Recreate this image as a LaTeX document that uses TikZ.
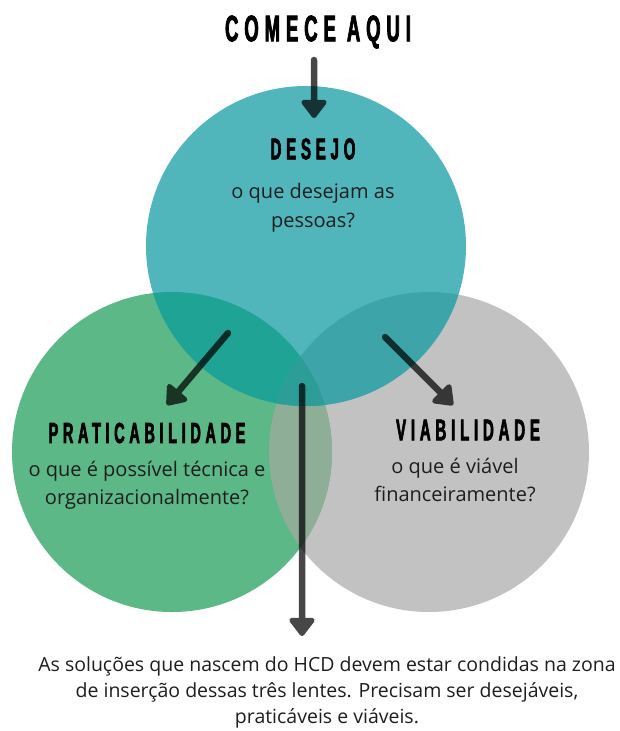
\documentclass[tikz,border=0pt]{standalone}
\usepackage{fontspec}
\setmainfont{Open Sans}
\newfontfamily\headfont[FakeStretch=0.5,LetterSpace=16,FakeBold=2]{Liberation Sans Bold}
\usetikzlibrary{arrows.meta}
\definecolor{cteal}{HTML}{50B6BB}
\definecolor{cgreen}{HTML}{5DB887}
\definecolor{cgray}{HTML}{C2C2C2}
\definecolor{ctg}{HTML}{1FA394}
\definecolor{ctv}{HTML}{3DA4A9}
\definecolor{cgv}{HTML}{8EAE98}
\definecolor{ctri}{HTML}{2C9E97}
\definecolor{ctext}{HTML}{1E1E1E}
\begin{document}
\begin{tikzpicture}[x=1pt,y=-1pt,
  lens/.style={circle,minimum size=320pt,inner sep=0pt},
  head/.style={font=\headfont,text=black,inner sep=0pt},
  body/.style={font=\fontsize{20}{28.5}\selectfont,text=ctext,align=center,inner sep=0pt},
  arr/.style={line width=6.5pt,line cap=round,-{Triangle[width=29pt,length=20pt,round]}}]
\useasboundingbox (0,0) rectangle (619,731);
\fill[white] (0,0) rectangle (619,731);
% lenses
\node[lens,fill=cgray] (via) at (429,452) {};
\node[lens,fill=cgreen] (pra) at (172,452) {};
\node[lens,fill=cteal] (des) at (306,246) {};
% overlaps
\begin{scope}
  \clip (429,452) circle (160);
  \fill[cgv] (172,452) circle (160);
\end{scope}
\begin{scope}
  \clip (306,246) circle (160);
  \fill[ctg] (172,452) circle (160);
  \fill[ctv] (429,452) circle (160);
  \clip (429,452) circle (160);
  \fill[ctri] (172,452) circle (160);
\end{scope}
% texts
\node[head,font=\headfont\fontsize{37}{40}\selectfont] (start) at (318,32) {COMECE AQUI};
\node[head,font=\headfont\fontsize{30}{32}\selectfont] (desT) at (313,149) {DESEJO};
\node[body] (desB) at (313,208) {o que desejam as\\pessoas?};
\node[head,font=\headfont\fontsize{29}{31}\selectfont] (praT) at (147,433) {PRATICABILIDADE};
\node[body] (praB) at (147,485) {o que é possível técnica e\\organizacionalmente?};
\node[head,font=\headfont\fontsize{30}{32}\selectfont] (viaT) at (468,430) {VIABILIDADE};
\node[body] (viaB) at (455,480) {o que é viável\\financeiramente?};
\node[body,font=\fontsize{19.5}{26}\selectfont] (note) at (327,692) {As soluções que nascem do HCD devem estar condidas na zona\\de inserção dessas três lentes. Precisam ser desejáveis,\\praticáveis e viáveis.};
% arrows
\coordinate (a1s) at (314,60);  \coordinate (a1e) at (314,118);
\coordinate (a2s) at (228,333); \coordinate (a2e) at (167,405);
\coordinate (a3s) at (385,337); \coordinate (a3e) at (453,405);
\coordinate (a4s) at (302,386); \coordinate (a4e) at (302,636);
\foreach \s/\e in {a1s/a1e,a2s/a2e,a3s/a3e,a4s/a4e}{
  \begin{scope}[transparency group,opacity=0.72]
    \draw[arr,black] (\s) -- (\e);
  \end{scope}
}
\end{tikzpicture}
\end{document}
